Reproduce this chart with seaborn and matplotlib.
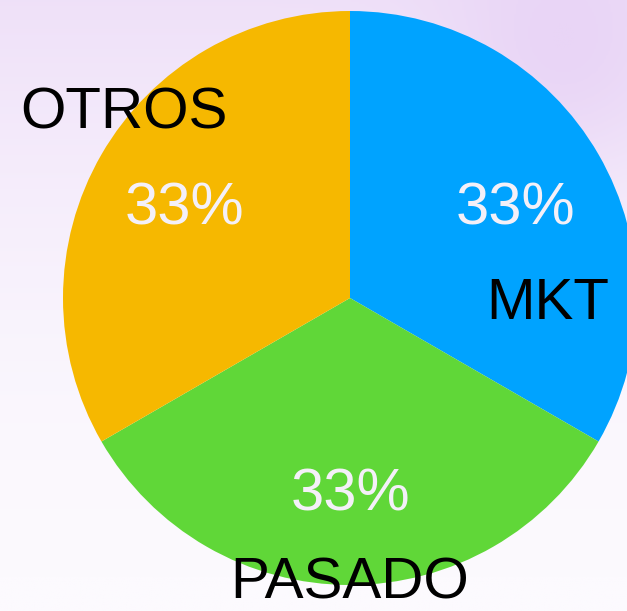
import numpy as np
import matplotlib
matplotlib.use("Agg")
import matplotlib.pyplot as plt
import seaborn as sns
from matplotlib.colors import LinearSegmentedColormap

# Slice data
categories = ["MKT", "PASADO", "OTROS"]
shares = [33, 33, 33]
slice_colors = ["#00A3FF", "#60D738", "#F6B800"]

# Where each category name sits (angle in degrees, radius as fraction of pie radius)
label_angles = [0, -90, 140]
label_radii = [0.69, 0.975, 1.03]

sns.set_theme(style="white")
plt.rcParams["font.family"] = ["Liberation Sans", "DejaVu Sans"]

W, H = 627, 611
fig = plt.figure(figsize=(W / 100, H / 100), dpi=100)

# soft lavender backdrop
bg = fig.add_axes([0, 0, 1, 1])
yy, xx = np.mgrid[0:1:300j, 0:1:300j]
glow = 0.65 * (1 - yy) ** 1.8 + 0.4 * np.exp(-((xx - 0.9) ** 2 + (yy - 0.12) ** 2) / 0.04)
glow = np.clip(glow, 0, 1)
cmap = LinearSegmentedColormap.from_list("bgc", ["#FCFAFE", "#E9D5F6"])
bg.imshow(glow, cmap=cmap, extent=[0, 1, 0, 1], origin="upper", aspect="auto")
bg.set_axis_off()

# pie: centre (350, 298) px from top-left, radius 287 px
cx, cy, r = 350, 298, 287
ax = fig.add_axes([(cx - r) / W, (H - cy - r) / H, 2 * r / W, 2 * r / H])
wedges, texts, autotexts = ax.pie(
    shares,
    colors=slice_colors,
    startangle=90,
    counterclock=False,
    autopct="%.0f%%",
    pctdistance=0.665,
    textprops={"fontsize": 43, "color": "#F4F0F8"},
    wedgeprops={"linewidth": 0},
)
for w in wedges:
    w.set_clip_on(False)
for t in autotexts:
    t.set_va("center_baseline")

for name, ang, rad in zip(categories, label_angles, label_radii):
    t = np.deg2rad(ang)
    ax.text(rad * np.cos(t), rad * np.sin(t), name, ha="center", va="center_baseline",
            fontsize=42, color="black", clip_on=False)

ax.set_xlim(-1, 1)
ax.set_ylim(-1, 1)
ax.set_axis_off()

fig.savefig("out.png", dpi=100)
